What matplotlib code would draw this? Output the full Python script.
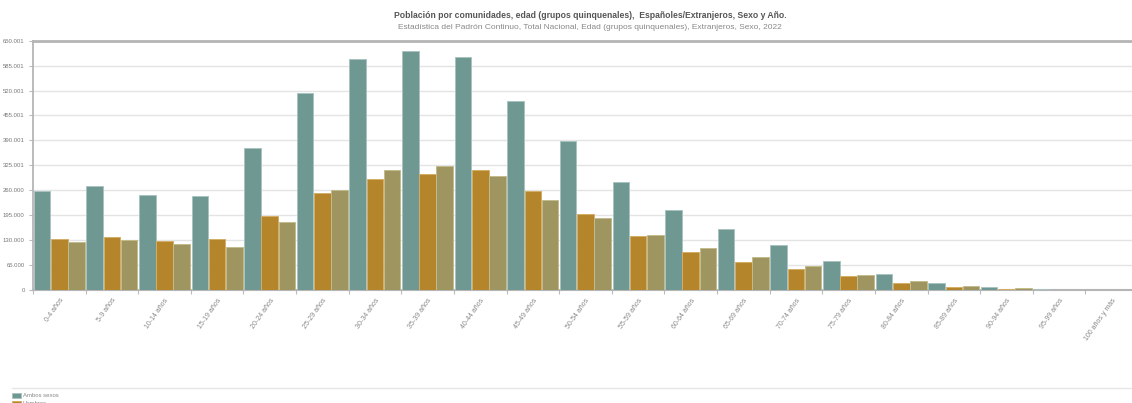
import matplotlib
matplotlib.use("Agg")
import matplotlib.pyplot as plt
import numpy as np
from matplotlib.lines import Line2D

categories = ["0-4 años", "5-9 años", "10-14 años", "15-19 años", "20-24 años",
              "25-29 años", "30-34 años", "35-39 años", "40-44 años", "45-49 años",
              "50-54 años", "55-59 años", "60-64 años", "65-69 años", "70-74 años",
              "75-79 años", "80-84 años", "85-89 años", "90-94 años", "95-99 años",
              "100 años y más"]
ambos = [257400, 270400, 247800, 244400, 370000, 514800, 601400, 624000, 608400,
         494000, 388200, 281600, 209800, 157800, 116200, 75400, 40800, 17400,
         7000, 1500, 300]
hombres = [131800, 138700, 128200, 131800, 192400, 253000, 288600, 301600, 312000,
           259200, 199400, 139600, 99600, 73600, 54600, 37200, 19500, 7000,
           2600, 500, 100]
mujeres = [125600, 130900, 120400, 112600, 177600, 261800, 313800, 323200, 297200,
           234800, 189000, 142200, 110000, 85000, 63200, 39800, 22600, 10400,
           4400, 1000, 200]
series_names = ["Ambos sexos", "Hombres", "Mujeres"]
yticks = [0, 65000, 130000, 195000, 260000, 325001, 390001, 455001, 520001, 585001, 650001]
ytick_labels = ["0", "65.000", "130.000", "195.000", "260.000", "325.001", "390.001",
                "455.001", "520.001", "585.001", "650.001"]
title = "Población por comunidades, edad (grupos quinquenales),  Españoles/Extranjeros, Sexo y Año."
subtitle = "Estadística del Padrón Continuo, Total Nacional, Edad (grupos quinquenales), Extranjeros, Sexo, 2022"

colors = ["#6f9893", "#b5852b", "#9e9560"]
edges = ["#a9c4c0", "#d4ad66", "#c2bb8c"]

plt.rcParams['font.family'] = ['Liberation Sans', 'DejaVu Sans']

W, H = 1132, 403
fig = plt.figure(figsize=(W / 100, H / 100), dpi=100)
left, right, bottom, top = 33, 1138, 290, 40.7
ax = fig.add_axes([left / W, 1 - bottom / H, (right - left) / W, (bottom - top) / H])

x = np.arange(len(categories))
bw = 0.315
offsets = [-0.329, 0.0, 0.325]
for vals, off, c, ec, name in zip([ambos, hombres, mujeres], offsets, colors, edges, series_names):
    ax.bar(x + off, vals, width=bw, color=c, edgecolor=ec, linewidth=0.7, label=name, zorder=3)

ax.set_xlim(-0.5, len(categories) - 0.5)
ax.set_ylim(0, 650001)
ax.set_yticks(yticks)
ax.set_yticklabels(ytick_labels, fontsize=4.3, color="#777777")
ax.yaxis.grid(True, color="#e4e4e4", linewidth=1.0, zorder=0)
ax.set_axisbelow(True)

ax.set_xticks(x)
ax.set_xticklabels(categories, rotation=55, ha="right", rotation_mode="anchor",
                   fontsize=5.0, color="#888888")
ax.tick_params(axis="x", which="major", length=0, pad=5)
ax.set_xticks(np.arange(len(categories) + 1) - 0.5, minor=True)
ax.tick_params(axis="x", which="minor", length=3, color="#bbbbbb", width=0.8)
ax.tick_params(axis="y", length=3, color="#bbbbbb", width=0.8, pad=3)

for s in ["right"]:
    ax.spines[s].set_visible(False)
ax.spines["top"].set_color("#b5b5b5")
ax.spines["top"].set_linewidth(2.0)
ax.spines["left"].set_color("#b5b5b5")
ax.spines["left"].set_linewidth(1.3)
ax.spines["bottom"].set_color("#b5b5b5")
ax.spines["bottom"].set_linewidth(1.5)

fig.text(590 / W, 1 - 16 / H, title, ha="center", va="center", fontsize=6.2,
         fontweight="bold", color="#555555")
fig.text(590 / W, 1 - 27.5 / H, subtitle, ha="center", va="center", fontsize=6.0,
         color="#888888", fontstretch="condensed")

# legend separator line
fig.add_artist(Line2D([12 / W, 1.0], [1 - 388 / H, 1 - 388 / H], transform=fig.transFigure,
                      color="#e6e6e6", linewidth=1.0))
handles, labels = ax.get_legend_handles_labels()
leg = fig.legend(handles, labels, loc="upper left", bbox_to_anchor=(8 / W, 1 - 388.5 / H),
                 frameon=False, fontsize=4.3, handlelength=1.4, handleheight=0.9,
                 handletextpad=0.4, labelspacing=0.45, borderpad=0.2)
for t in leg.get_texts():
    t.set_color("#888888")

fig.savefig("out.png", dpi=100)
